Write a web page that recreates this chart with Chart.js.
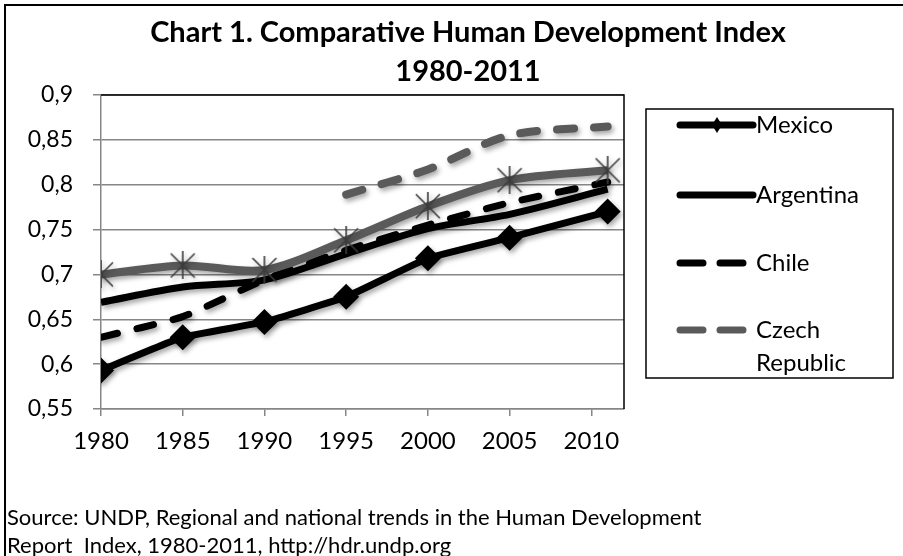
<!DOCTYPE html>
<html>
<head>
<meta charset="utf-8">
<script src="https://cdn.jsdelivr.net/npm/chart.js@4.4.1/dist/chart.umd.min.js"></script>
<style>
  html, body { margin: 0; padding: 0; background: #fff; overflow: hidden; }
  body { width: 903px; height: 556px; position: relative; }
  #frame { position: absolute; left: 4px; top: 4px; width: 1000px; height: 1000px;
           border-left: 2px solid #000; border-top: 2px solid #000; }
  #wrap { position: absolute; left: 6px; top: 6px; }
  #source { position: absolute; left: 7px; top: 503px; font: 22px Lato; line-height: 28px;
            white-space: pre; color: #000; }
</style>
</head>
<body>
<div id="frame"></div>
<div id="wrap"><canvas id="myChart1" width="924" height="550"></canvas></div>
<div id="source">Source: UNDP, Regional and national trends in the Human Development
Report  Index, 1980-2011, http://hdr.undp.org</div>
<script>
// HDI values
const years = [1980, 1985, 1990, 1995, 2000, 2005, 2011];
const mexico = [0.593, 0.630, 0.647, 0.675, 0.718, 0.741, 0.770];
const argentina = [0.669, 0.686, 0.694, 0.723, 0.751, 0.767, 0.795];
const chile = [0.630, 0.653, 0.694, 0.727, 0.755, 0.780, 0.803];
const czech = [null, null, null, 0.789, 0.817, 0.855, 0.865];
const hungary = [0.700, 0.710, 0.705, 0.738, 0.776, 0.805, 0.816];
const xTicks = [1980, 1985, 1990, 1995, 2000, 2005, 2010];

function pts(vals) {
    return years.map((yr, i) => ({x: yr, y: vals[i]})).filter(p => p.y != null);
}

// excel style star marker: X plus vertical bar
function starMarker() {
    const c = document.createElement('canvas');
    c.width = 28; c.height = 28;
    const g = c.getContext('2d');
    g.strokeStyle = '#3c3c3c';
    g.lineWidth = 1.6;
    g.beginPath();
    g.moveTo(2, 2); g.lineTo(26, 26);
    g.moveTo(26, 2); g.lineTo(2, 26);
    g.moveTo(14, 0); g.lineTo(14, 28);
    g.stroke();
    return c;
}

const shadow = {
    id: 'shadow',
    beforeDatasetDraw(chart) {
        const ctx = chart.ctx;
        ctx.save();
        ctx.shadowColor = 'rgba(0,0,0,0.35)';
        ctx.shadowBlur = 5;
        ctx.shadowOffsetX = 2;
        ctx.shadowOffsetY = 3;
    },
    afterDatasetDraw(chart) {
        chart.ctx.restore();
    }
};

const plotBorder = {
    id: 'plotBorder',
    beforeDatasetsDraw(chart) {
        const a = chart.chartArea, ctx = chart.ctx;
        ctx.save();
        ctx.strokeStyle = '#000';
        ctx.lineWidth = 1.5;
        ctx.beginPath();
        ctx.moveTo(a.left, a.top);
        ctx.lineTo(a.right, a.top);
        ctx.lineTo(a.right, a.bottom);
        ctx.stroke();
        ctx.restore();
    }
};

const legendBox = {
    id: 'legendBox',
    afterDraw(chart) {
        const ctx = chart.ctx;
        ctx.save();
        ctx.strokeStyle = '#000';
        ctx.lineWidth = 1.5;
        ctx.strokeRect(640, 103, 247, 269);
        const rowY = [119, 189, 257, 324];
        const entries = chart.data.datasets.filter(d => d.legendText);
        entries.forEach((d, i) => {
            const y = rowY[i];
            ctx.save();
            ctx.strokeStyle = d.borderColor;
            ctx.lineWidth = 7;
            ctx.lineCap = 'round';
            ctx.setLineDash(d.borderDash ? [23, 17] : []);
            ctx.beginPath();
            ctx.moveTo(674, y);
            ctx.lineTo(747, y);
            ctx.stroke();
            ctx.restore();
            if (d.pointStyle === 'rectRot') {
                ctx.fillStyle = d.borderColor;
                ctx.beginPath();
                ctx.moveTo(711, y - 8); ctx.lineTo(716, y);
                ctx.lineTo(711, y + 8); ctx.lineTo(706, y);
                ctx.closePath();
                ctx.fill();
            }
            ctx.fillStyle = '#000';
            ctx.font = '24px Lato';
            ctx.textBaseline = 'middle';
            d.legendText.forEach((t, j) => ctx.fillText(t, 750, y + j * 33));
        });
        ctx.restore();
    }
};

const ctx = document.getElementById('myChart1');
window.myChart = new Chart(ctx, {
    type: 'line',
    data: {
        datasets: [{
            label: 'Mexico',
            legendText: ['Mexico'],
            data: pts(mexico),
            borderColor: '#000',
            backgroundColor: '#000',
            borderWidth: 7,
            pointStyle: 'rectRot',
            pointRadius: 13,
            pointBorderWidth: 0,
            tension: 0.1,
            order: 4
        }, {
            label: 'Argentina',
            legendText: ['Argentina'],
            data: pts(argentina),
            borderColor: '#000',
            borderWidth: 7,
            pointRadius: 0,
            tension: 0.3,
            order: 3
        }, {
            label: 'Chile',
            legendText: ['Chile'],
            data: pts(chile),
            borderColor: '#000',
            borderWidth: 7,
            borderDash: [17, 20],
            borderCapStyle: 'round',
            pointRadius: 0,
            tension: 0.2,
            order: 2
        }, {
            label: 'Czech Republic',
            legendText: ['Czech', 'Republic'],
            data: pts(czech),
            borderColor: '#5a5a5a',
            borderWidth: 8,
            borderDash: [17, 20],
            borderCapStyle: 'round',
            pointRadius: 0,
            tension: 0.3,
            order: 1
        }, {
            label: 'Hungary',
            data: pts(hungary),
            borderColor: '#5a5a5a',
            borderWidth: 8,
            pointStyle: starMarker(),
            pointRadius: 14,
            tension: 0.3,
            order: 0
        }]
    },
    options: {
        responsive: false,
        animation: false,
        layout: { padding: { left: 0, right: 0, top: 0, bottom: 97 } },
        plugins: {
            legend: { display: false },
            tooltip: { enabled: false },
            title: {
                display: true,
                text: ['Chart 1. Comparative Human Development Index', '1980-2011'],
                color: '#000',
                font: { family: 'Lato', size: 29, weight: 'bold', lineHeight: 1.324 },
                padding: { top: 7.8, bottom: 4.4 }
            }
        },
        scales: {
            x: {
                type: 'linear',
                min: 1980,
                max: 2012,
                afterBuildTicks: s => { s.ticks = xTicks.map(v => ({value: v})); },
                afterFit: s => { s.height = 50; },
                border: { color: '#868686', width: 1.5 },
                grid: { drawOnChartArea: false, color: '#868686', tickLength: 7, lineWidth: 1.5 },
                ticks: {
                    color: '#000',
                    padding: 11,
                    maxRotation: 0,
                    font: { family: 'Lato', size: 24 },
                    callback: v => String(v)
                }
            },
            y: {
                min: 0.55,
                max: 0.9,
                afterFit: s => { s.width = 95; },
                border: { color: '#868686', width: 1.5 },
                grid: { color: '#868686', tickLength: 8, lineWidth: 1.5 },
                ticks: {
                    stepSize: 0.05,
                    color: '#000',
                    padding: 20,
                    font: { family: 'Lato', size: 23 },
                    callback: v => String(+v.toFixed(2)).replace('.', ',')
                }
            },
            // empty right axis: keeps room for the legend so the title stays centred on the canvas
            yRoom: {
                type: 'linear',
                position: 'right',
                min: 0,
                max: 1,
                afterFit: s => { s.width = 306; },
                border: { display: false },
                grid: { display: false, drawTicks: false },
                ticks: { display: false }
            }
        }
    },
    plugins: [shadow, plotBorder, legendBox]
});
</script>
</body>
</html>
